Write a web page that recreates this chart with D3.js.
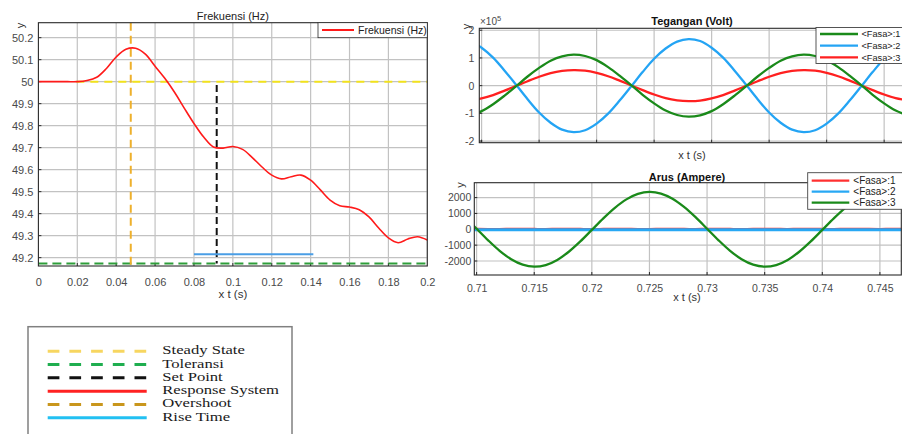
<!DOCTYPE html>
<html><head><meta charset="utf-8">
<script src="https://cdn.jsdelivr.net/npm/d3@7"></script>
<style>body{margin:0;background:#fff}svg{display:block}</style>
</head><body>
<svg id="c" width="902" height="434"></svg>
<script>
// ---------- Frequency response (Hz) ----------
const freqT = [0,0.005,0.01,0.015,0.02,0.025,0.03,0.035,0.04,0.045,0.05,0.055,0.06,0.065,0.07,0.075,0.08,0.085,0.09,0.095,0.1,0.105,0.11,0.115,0.12,0.125,0.13,0.135,0.14,0.145,0.15,0.155,0.16,0.165,0.17,0.175,0.18,0.185,0.19,0.195,0.2];
const freqHz = [50,50,50,50,50,50.005,50.02,50.06,50.112,50.147,50.152,50.125,50.07,50.015,49.952,49.88,49.81,49.748,49.703,49.698,49.705,49.692,49.655,49.612,49.575,49.558,49.568,49.575,49.552,49.508,49.462,49.436,49.43,49.418,49.385,49.335,49.29,49.268,49.285,49.295,49.28];
const freqXTicks = [0,0.02,0.04,0.06,0.08,0.1,0.12,0.14,0.16,0.18,0.2];
const freqYTicks = [49.2,49.3,49.4,49.5,49.6,49.7,49.8,49.9,50,50.1,50.2];
// Marker lines on the frequency plot
const steadyStateHz = 50, steadyStartT = 0.0195;
const toleranceHz = 49.173;
const overshootT = 0.0475;
const setPointT = 0.0917, setPointTopHz = 49.985;
const riseTimeHz = 49.215, riseStartT = 0.08, riseEndT = 0.1414;

// ---------- Three-phase voltage (x10^5 V) and current (A) ----------
const phaseT = [0.709,0.71,0.711,0.712,0.713,0.714,0.715,0.716,0.717,0.718,0.719,0.72,0.721,0.722,0.723,0.724,0.725,0.726,0.727,0.728,0.729,0.73,0.731,0.732,0.733,0.734,0.735,0.736,0.737,0.738,0.739,0.74,0.741,0.742,0.743,0.744,0.745,0.746,0.747];
const voltA = [-1.07,-0.92,-0.67,-0.36,-0.02,0.33,0.64,0.9,1.06,1.12,1.07,0.92,0.67,0.36,0.02,-0.33,-0.64,-0.9,-1.06,-1.12,-1.07,-0.92,-0.67,-0.36,-0.02,0.33,0.64,0.9,1.06,1.12,1.07,0.92,0.67,0.36,0.02,-0.33,-0.64,-0.9,-1.06];
const voltB = [1.61,1.37,1.01,0.54,0.03,-0.49,-0.97,-1.34,-1.59,-1.68,-1.61,-1.37,-1.01,-0.54,-0.03,0.49,0.97,1.34,1.59,1.68,1.61,1.37,1.01,0.54,0.03,-0.49,-0.97,-1.34,-1.59,-1.68,-1.61,-1.37,-1.01,-0.54,-0.03,0.49,0.97,1.34,1.59];
const voltC = [-0.54,-0.46,-0.34,-0.18,-0.01,0.16,0.32,0.45,0.53,0.56,0.54,0.46,0.34,0.18,0.01,-0.16,-0.32,-0.45,-0.53,-0.56,-0.54,-0.46,-0.34,-0.18,-0.01,0.16,0.32,0.45,0.53,0.56,0.54,0.46,0.34,0.18,0.01,-0.16,-0.32,-0.45,-0.53];
const voltYTicks = [-2,-1,0,1,2];
const currA = [28,30,26,24,30,32,28,25,30,31,27,24,29,33,30,26,25,30,32,28,26,30,31,27,24,29,30,28,26,30,31,27,25,29,30,28,26,30,29];
const currB = [-28,-26,-30,-27,-25,-29,-31,-27,-26,-30,-28,-25,-27,-30,-29,-26,-27,-31,-28,-26,-29,-30,-27,-25,-28,-30,-29,-26,-27,-30,-28,-26,-29,-31,-27,-25,-28,-30,-27];
const currC = [765,37,-694,-1357,-1888,-2233,-2360,-2256,-1931,-1416,-765,-37,694,1357,1888,2233,2360,2256,1931,1416,765,37,-694,-1357,-1888,-2233,-2360,-2256,-1931,-1416,-765,-37,694,1357,1888,2233,2360,2256,1931];
const currXTicks = [0.71,0.715,0.72,0.725,0.73,0.735,0.74,0.745];
const currYTicks = [-2000,-1000,0,1000,2000];
const phaseNames = ["<Fasa>:1","<Fasa>:2","<Fasa>:3"];

// ---------- Key for the frequency markers ----------
const keyLabels = ["Steady State","Toleransi","Set Point","Response System","Overshoot","Rise Time"];
const keyColors = ["#f7d660","#1fae4f","#111111","#ff2222","#c9961c","#22c0f2"];
const keyDashed = [true,true,true,false,true,false];

const svg = d3.select("#c");
svg.append("rect").attr("width",902).attr("height",434).attr("fill","#fff");
const SANS = "'Liberation Sans', Arial, Helvetica, sans-serif";
const GRID = "#c2c2c2", FRAME = "#2a2a2a", TICKTXT = "#4a4a4a";

function panel(opt){
  const g = svg.append("g");
  const {x, y, L, R, T, B} = opt;
  const clipId = "clip" + Math.random().toString(36).slice(2,8);
  svg.append("clipPath").attr("id",clipId).append("rect")
     .attr("x",L).attr("y",T).attr("width",R-L).attr("height",B-T);
  g.append("rect").attr("x",L).attr("y",T).attr("width",R-L).attr("height",B-T).attr("fill","#fff");
  // grid
  const grid = g.append("g").attr("clip-path",`url(#${clipId})`);
  opt.xTicks.forEach(v=>grid.append("line").attr("x1",x(v)).attr("x2",x(v)).attr("y1",T).attr("y2",B)
      .attr("stroke",GRID).attr("stroke-width",1.2));
  opt.yTicks.forEach(v=>grid.append("line").attr("x1",L).attr("x2",R).attr("y1",y(v)).attr("y2",y(v))
      .attr("stroke",GRID).attr("stroke-width",1.2));
  // axes via d3 axes (labels)
  const fs = opt.fontSize;
  const yAx = g.append("g").attr("transform",`translate(${L},0)`)
     .call(d3.axisLeft(y).tickValues(opt.yTicks).tickFormat(opt.yFmt).tickSize(0).tickPadding(opt.yPad));
  yAx.select(".domain").remove();
  yAx.selectAll("text").attr("font-family",SANS).attr("font-size",fs).attr("fill",TICKTXT);
  if (opt.showXLabels){
    const xAx = g.append("g").attr("transform",`translate(0,${B})`)
      .call(d3.axisBottom(x).tickValues(opt.xTicks).tickFormat(opt.xFmt).tickSize(0).tickPadding(opt.xPad));
    xAx.select(".domain").remove();
    xAx.selectAll("text").attr("font-family",SANS).attr("font-size",fs).attr("fill",TICKTXT);
  }
  // inner tick marks
  opt.xTicks.forEach(v=>{ if(x(v)>L+1 && x(v)<R-1) g.append("line").attr("x1",x(v)).attr("x2",x(v)).attr("y1",B).attr("y2",B-3).attr("stroke",FRAME); });
  opt.yTicks.forEach(v=>{ if(y(v)>T+1 && y(v)<B-1) g.append("line").attr("x1",L).attr("x2",L+3).attr("y1",y(v)).attr("y2",y(v)).attr("stroke",FRAME); });
  const plot = g.append("g").attr("clip-path",`url(#${clipId})`);
  return {g, plot, clipId};
}
function frame(p, o){
  p.g.append("rect").attr("x",o.L).attr("y",o.T).attr("width",o.R-o.L).attr("height",o.B-o.T)
   .attr("fill","none").attr("stroke",FRAME).attr("stroke-width",1.1);
}
function label(txt, x0, y0, o={}){
  const t = svg.append("text").attr("x",x0).attr("y",y0).attr("text-anchor",o.anchor||"middle")
    .attr("font-family",o.family||SANS).attr("font-size",o.size||11).attr("fill",o.fill||"#222")
    .attr("font-weight",o.weight||"normal").text(txt);
  if(o.rotate) t.attr("transform",`rotate(-90,${x0},${y0})`);
  return t;
}

// ===== Frequency plot =====
const fo = {L:38.4, R:427.3, T:22.7, B:266};
fo.x = d3.scaleLinear().domain([0,0.2]).range([fo.L,fo.R]);
fo.y = d3.scaleLinear().domain([49.162,50.268]).range([fo.B,fo.T]);
Object.assign(fo,{xTicks:freqXTicks,yTicks:freqYTicks,fontSize:11,yPad:5,xPad:12,showXLabels:true,
  xFmt:d=>String(+d.toFixed(2)), yFmt:d=>String(+d.toFixed(1))});
const fp = panel(fo);
const dashLine = (x1,y1,x2,y2,color,dash,w=2)=>fp.plot.append("line").attr("x1",x1).attr("y1",y1).attr("x2",x2).attr("y2",y2)
   .attr("stroke",color).attr("stroke-width",w).attr("stroke-dasharray",dash);
dashLine(fo.x(steadyStartT),fo.y(steadyStateHz),fo.R,fo.y(steadyStateHz),"#f2e21c","8,6");
dashLine(fo.L,fo.y(toleranceHz),fo.R,fo.y(toleranceHz),"#2e9e3a","9,5");
dashLine(fo.x(overshootT),fo.T,fo.x(overshootT),fo.y(toleranceHz)+2,"#eeb02c","8,5");
dashLine(fo.x(setPointT),fo.y(setPointTopHz),fo.x(setPointT),fo.y(toleranceHz),"#111","7,4");
fp.plot.append("line").attr("x1",fo.x(riseStartT)).attr("x2",fo.x(riseEndT)).attr("y1",fo.y(riseTimeHz)).attr("y2",fo.y(riseTimeHz))
   .attr("stroke","#4a9ee6").attr("stroke-width",2);
fp.plot.append("path").datum(freqT.map((t,i)=>[t,freqHz[i]]))
   .attr("d",d3.line().x(d=>fo.x(d[0])).y(d=>fo.y(d[1])).curve(d3.curveCatmullRom))
   .attr("fill","none").attr("stroke","#ff1a1a").attr("stroke-width",1.6);
frame(fp,fo);
// legend
fp.g.append("rect").attr("x",318).attr("y",fo.T).attr("width",fo.R-318).attr("height",15).attr("fill","#fff").attr("stroke",FRAME).attr("stroke-width",0.8);
fp.g.append("line").attr("x1",322).attr("x2",354).attr("y1",30).attr("y2",30).attr("stroke","#ff1a1a").attr("stroke-width",2);
label("Frekuensi (Hz)",358,34,{anchor:"start",size:10.5});
label("Frekuensi (Hz)",(fo.L+fo.R)/2,19.5,{size:11});
label("x t (s)",(fo.L+fo.R)/2,298,{size:11.5,fill:"#333"});
label("y",24,25.5,{size:11,rotate:true,fill:"#333"});

// ===== Voltage plot =====
const vo = {L:479.3, R:906, T:28.3, B:142.7};
vo.x = d3.scaleLinear().domain([0.7098,0.7469]).range([vo.L,vo.R]);
vo.y = d3.scaleLinear().domain([-2.06,2.07]).range([vo.B,vo.T]);
Object.assign(vo,{xTicks:currXTicks,yTicks:voltYTicks,fontSize:10.5,yPad:5,xPad:10,showXLabels:false,
  xFmt:d=>d, yFmt:d=>String(d)});
const vp = panel(vo);
const vLine = d3.line().x((d,i)=>vo.x(phaseT[i])).y(d=>vo.y(d)).curve(d3.curveCatmullRom);
[[voltC,"#ff2020"],[voltB,"#24a4f4"],[voltA,"#1a8a1a"]].forEach(([arr,c])=>
  vp.plot.append("path").datum(arr).attr("d",vLine).attr("fill","none").attr("stroke",c).attr("stroke-width",2.3));
frame(vp,vo);
vp.g.append("rect").attr("x",816).attr("y",27.5).attr("width",95).attr("height",36).attr("fill","#fff").attr("stroke","#444").attr("stroke-width",0.9);
[["#1a8a1a",34],["#24a4f4",45.7],["#ff2020",57.3]].forEach(([c,yy],i)=>{
  vp.g.append("line").attr("x1",820).attr("x2",858).attr("y1",yy).attr("y2",yy).attr("stroke",c).attr("stroke-width",2.3);
  label(phaseNames[i],861.5,yy+3.3,{anchor:"start",size:9.2});
});
label("Tegangan (Volt)",692,24.5,{size:11,weight:"bold",fill:"#111"});
const ex = svg.append("text").attr("x",480).attr("y",25).attr("font-family",SANS).attr("font-size",10).attr("fill",TICKTXT);
ex.append("tspan").text("×10");
ex.append("tspan").attr("dy",-4).attr("font-size",7.5).text("5");
label("x t (s)",692,159,{size:11,fill:"#333"});
label("y",469.5,26.5,{size:11,rotate:true,fill:"#333"});

// ===== Current plot =====
const co = {L:474.3, R:901.3, T:182.7, B:275};
co.x = d3.scaleLinear().domain([0.7098,0.7469]).range([co.L,co.R+0.5]);
co.y = d3.scaleLinear().domain([-2883,2940]).range([co.B,co.T]);
Object.assign(co,{xTicks:currXTicks,yTicks:currYTicks,fontSize:10.5,yPad:3,xPad:10,showXLabels:true,
  xFmt:d=>String(d), yFmt:d=>String(d)});
const cp = panel(co);
const cLine = d3.line().x((d,i)=>co.x(phaseT[i])).y(d=>co.y(d)).curve(d3.curveCatmullRom);
[[currA,"#ff3030",2],[currB,"#28a8f4",3],[currC,"#1a8a1a",2.3]].forEach(([arr,c,w])=>
  cp.plot.append("path").datum(arr).attr("d",cLine).attr("fill","none").attr("stroke",c).attr("stroke-width",w));
frame(cp,co);
cp.g.append("rect").attr("x",807.7).attr("y",172.7).attr("width",100).attr("height",36.6).attr("fill","#fff").attr("stroke","#444").attr("stroke-width",0.9);
[["#ff3030",180.7],["#28a8f4",191.7],["#1a8a1a",202.7]].forEach(([c,yy],i)=>{
  cp.g.append("line").attr("x1",811.7).attr("x2",849.3).attr("y1",yy).attr("y2",yy).attr("stroke",c).attr("stroke-width",2.3);
  label(phaseNames[i],853.3,yy+3.5,{anchor:"start",size:10});
});
label("Arus (Ampere)",687,180.5,{size:11,weight:"bold",fill:"#111"});
label("x t (s)",687,300.5,{size:11,fill:"#333"});
label("y",463.5,185,{size:11,rotate:true,fill:"#333"});

// ===== Marker key =====
const key = svg.append("g");
key.append("rect").attr("x",28).attr("y",326.7).attr("width",264).attr("height",130).attr("fill","#fff")
   .attr("stroke","#808080").attr("stroke-width",1.5);
const keyY = d3.scalePoint().domain(keyLabels).range([351.3,417.7]);
keyLabels.forEach((k,i)=>{
  const yy = keyY(k);
  key.append("line").attr("x1",47.7).attr("x2",146.7).attr("y1",yy).attr("y2",yy)
     .attr("stroke",keyColors[i]).attr("stroke-width",3).attr("stroke-dasharray",keyDashed[i]?"11.7,10":null);
  const t = key.append("text").attr("x",162.3).attr("y",yy+3).attr("font-family","'Liberation Serif','Times New Roman',serif")
     .attr("font-size",13.5).attr("fill","#1a1a1a").text(k);
  // the serif face in the key is set wide: stretch each label horizontally
  const w = t.node().getComputedTextLength();
  t.attr("textLength",w*1.23).attr("lengthAdjust","spacingAndGlyphs");
});
</script>
</body></html>
